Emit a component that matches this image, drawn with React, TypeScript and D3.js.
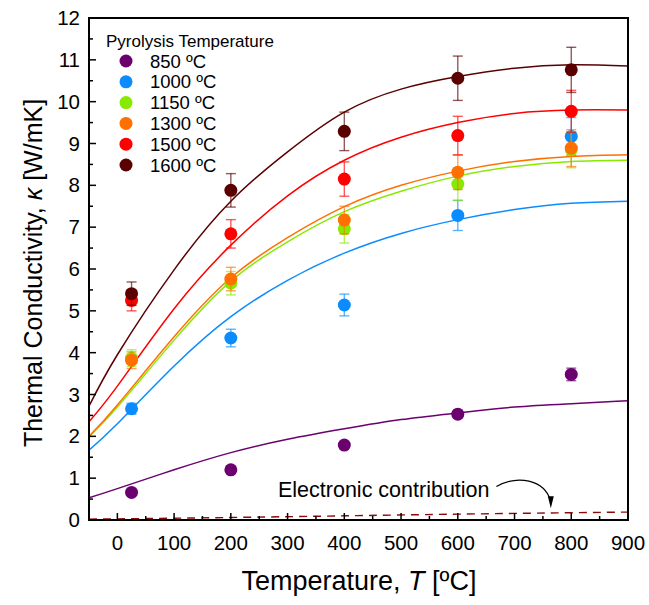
import React from "react";
import * as d3 from "d3";

const W = 649;
const H = 605;
const M = { left: 89, right: 21, top: 18, bottom: 85 };

const seriesNames = ["850 ºC", "1000 ºC", "1150 ºC", "1300 ºC", "1500 ºC", "1600 ºC"];
const seriesColors = ["#6b006f", "#0a8cff", "#88ea00", "#ff7000", "#ff0000", "#5a0000"];

const measT = [25, 200, 400, 600, 800];
const k850 = [0.66, 1.2, 1.79, 2.53, 3.48];
const e850 = [0.06, 0.06, 0.07, 0.09, 0.15];
const k1000 = [2.66, 4.35, 5.14, 7.28, 9.17];
const e1000 = [0.13, 0.21, 0.26, 0.36, 0.45];
const k1150 = [3.87, 5.66, 6.96, 8.03, 8.85];
const e1150 = [0.2, 0.28, 0.34, 0.39, 0.43];
const k1300 = [3.82, 5.76, 7.17, 8.31, 8.89];
const e1300 = [0.2, 0.28, 0.33, 0.41, 0.44];
const k1500 = [5.25, 6.84, 8.15, 9.19, 9.77];
const e1500 = [0.25, 0.34, 0.41, 0.46, 0.5];
const k1600 = [5.41, 7.88, 9.29, 10.56, 10.76];
const e1600 = [0.28, 0.4, 0.46, 0.53, 0.54];

const fitT = [-50, 0, 100, 200, 300, 400, 500, 600, 700, 800, 900];
const fit850 = [0.53, 0.75, 1.2, 1.61, 1.93, 2.18, 2.4, 2.56, 2.7, 2.78, 2.85];
const fit1000 = [1.67, 2.3, 3.68, 4.86, 5.73, 6.38, 6.85, 7.18, 7.42, 7.57, 7.62];
const fit1150 = [1.99, 2.7, 4.3, 5.71, 6.65, 7.37, 7.86, 8.22, 8.45, 8.57, 8.6];
const fit1300 = [2.0, 2.75, 4.38, 5.79, 6.75, 7.49, 8.0, 8.34, 8.57, 8.69, 8.73];
const fit1500 = [2.35, 3.2, 5.05, 6.57, 7.75, 8.6, 9.15, 9.5, 9.72, 9.8, 9.8];
const fit1600 = [2.72, 3.95, 5.98, 7.62, 8.8, 9.75, 10.3, 10.6, 10.8, 10.88, 10.85];

const elecT = [-50, 200, 400, 600, 900];
const elecK = [0.02, 0.06, 0.1, 0.14, 0.19];

const xTicks = [0, 100, 200, 300, 400, 500, 600, 700, 800, 900];
const xMinor = [-50, 50, 150, 250, 350, 450, 550, 650, 750, 850];
const yTicks = [0, 1, 2, 3, 4, 5, 6, 7, 8, 9, 10, 11, 12];
const yMinor = [0.5, 1.5, 2.5, 3.5, 4.5, 5.5, 6.5, 7.5, 8.5, 9.5, 10.5, 11.5];

const measK = [k850, k1000, k1150, k1300, k1500, k1600];
const measE = [e850, e1000, e1150, e1300, e1500, e1600];
const fits = [fit850, fit1000, fit1150, fit1300, fit1500, fit1600];

const FONT = "Arial, 'Liberation Sans', sans-serif";

export default function App() {
  const x = d3.scaleLinear().domain([-50, 900]).range([M.left, W - M.right]);
  const y = d3.scaleLinear().domain([0, 12]).range([H - M.bottom, M.top]);
  const line = d3
    .line<[number, number]>()
    .x((d) => x(d[0]))
    .y((d) => y(d[1]))
    .curve(d3.curveNatural);

  const x0 = M.left;
  const x1 = W - M.right;
  const y0 = H - M.bottom;
  const y1 = M.top;

  // annotation arrow (in data units)
  const aS = [668, 0.8];
  const aC1 = [705, 1.08];
  const aC2 = [752, 0.98];
  const aE = [764, 0.45];
  const arrowPath = `M${x(aS[0])},${y(aS[1])} C${x(aC1[0])},${y(aC1[1])} ${x(aC2[0])},${y(aC2[1])} ${x(aE[0])},${y(aE[1])}`;
  const tipX = x(764);
  const tipY = y(0.28);

  return (
    <svg
      width={W}
      height={H}
      style={{ position: "absolute", left: 0, top: 0, background: "#fff" }}
      fontFamily={FONT}
    >
      <rect x={0} y={0} width={W} height={H} fill="#fff" />
      <defs>
        <clipPath id="plotclip">
          <rect x={x0} y={y1} width={x1 - x0} height={y0 - y1} />
        </clipPath>
      </defs>

      <g clipPath="url(#plotclip)">
        {/* electronic contribution */}
        <path
          d={line(elecT.map((t, i) => [t, elecK[i]]) as [number, number][]) || ""}
          fill="none"
          stroke="#8b0a0a"
          strokeWidth={1.4}
          strokeDasharray="8,6"
        />
        {/* fit curves */}
        {fits.map((f, si) => (
          <path
            key={"fit" + si}
            d={line(fitT.map((t, i) => [t, f[i]]) as [number, number][]) || ""}
            fill="none"
            stroke={seriesColors[si]}
            strokeWidth={1.5}
          />
        ))}
        {/* error bars and points */}
        {measK.map((ks, si) => (
          <g key={"s" + si}>
            {ks.map((k, i) => {
              const cx = x(measT[i]);
              const e = measE[si][i];
              return (
                <g key={i} stroke={seriesColors[si]} strokeOpacity={0.65} strokeWidth={1.4}>
                  <line x1={cx} x2={cx} y1={y(k - e)} y2={y(k + e)} />
                  <line x1={cx - 5} x2={cx + 5} y1={y(k - e)} y2={y(k - e)} />
                  <line x1={cx - 5} x2={cx + 5} y1={y(k + e)} y2={y(k + e)} />
                </g>
              );
            })}
            {ks.map((k, i) => (
              <circle key={"c" + i} cx={x(measT[i])} cy={y(k)} r={6.5} fill={seriesColors[si]} />
            ))}
          </g>
        ))}
      </g>

      {/* ticks */}
      <g stroke="#000" strokeWidth={1.5}>
        {xTicks.map((t) => (
          <line key={"xt" + t} x1={x(t)} x2={x(t)} y1={y0} y2={y0 - 7} />
        ))}
        {xMinor.map((t) => (
          <line key={"xm" + t} x1={x(t)} x2={x(t)} y1={y0} y2={y0 - 4} />
        ))}
        {yTicks.map((t) => (
          <line key={"yt" + t} x1={x0} x2={x0 + 7} y1={y(t)} y2={y(t)} />
        ))}
        {yMinor.map((t) => (
          <line key={"ym" + t} x1={x0} x2={x0 + 4} y1={y(t)} y2={y(t)} />
        ))}
      </g>

      {/* frame */}
      <rect x={x0} y={y1} width={x1 - x0} height={y0 - y1} fill="none" stroke="#000" strokeWidth={2} />

      {/* tick labels */}
      <g fontSize={20.5} fill="#000">
        {xTicks.map((t) => (
          <text key={"xl" + t} x={x(t)} y={y0 + 30} textAnchor="middle">
            {t}
          </text>
        ))}
        {yTicks.map((t) => (
          <text key={"yl" + t} x={x0 - 9} y={y(t) + 7} textAnchor="end">
            {t}
          </text>
        ))}
      </g>

      {/* axis titles */}
      <text x={359} y={590} textAnchor="middle" fontSize={27} fill="#000">
        Temperature, <tspan fontStyle="italic">T</tspan> [ºC]
      </text>
      <text
        transform={`translate(42,${(y0 + y1) / 2 + 4}) rotate(-90)`}
        textAnchor="middle"
        fontSize={25}
        fill="#000"
      >
        Thermal Conductivity, <tspan fontStyle="italic">κ</tspan> [W/mK]
      </text>

      {/* legend */}
      <text x={106} y={47} fontSize={17} fill="#000">
        Pyrolysis Temperature
      </text>
      {seriesNames.map((n, i) => (
        <g key={"lg" + i}>
          <circle cx={126} cy={61 + i * 20.8} r={6.5} fill={seriesColors[i]} />
          <text x={150} y={61 + i * 20.8 + 6.5} fontSize={18.5} fill="#000">
            {n}
          </text>
        </g>
      ))}

      {/* annotation */}
      <text x={278} y={497} fontSize={21.5} fill="#000">
        Electronic contribution
      </text>
      <path d={arrowPath} fill="none" stroke="#000" strokeWidth={1.2} />
      <path
        d={`M${tipX - 3},${tipY - 12} L${tipX + 3},${tipY - 12} L${tipX},${tipY} Z`}
        fill="#000"
      />
    </svg>
  );
}
